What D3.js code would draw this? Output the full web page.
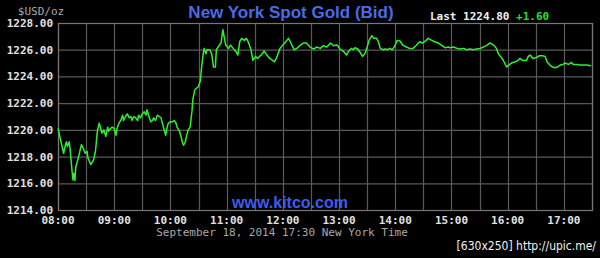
<!DOCTYPE html>
<html>
<head>
<meta charset="utf-8">
<script src="https://cdn.jsdelivr.net/npm/d3@7"></script>
<style>
  body { margin: 0; background: #000; }
  svg { display: block; }
</style>
</head>
<body>
<div id="goldChart"></div>
<script>
var outerWidth = 600, outerHeight = 258

var margins = {top: 23, right: 8, bottom: 48, left: 58}

var innerWidth = outerWidth - margins.left - margins.right
var innerHeight = outerHeight - margins.top - margins.bottom

// bid quotes, New York time
var times = ["08:00","08:06","08:08","08:09","08:10","08:12","08:13","08:15","08:16","08:17",
  "08:18","08:19","08:22","08:25","08:27","08:29","08:31","08:32","08:35","08:38",
  "08:40","08:42","08:44","08:47","08:49","08:51","08:53","08:54","08:56","08:58",
  "09:00","09:02","09:03","09:05","09:07","09:09","09:10","09:12","09:14","09:16",
  "09:18","09:19","09:21","09:23","09:25","09:26","09:28","09:30","09:32","09:34",
  "09:35","09:37","09:39","09:41","09:42","09:44","09:46","09:48","09:50","09:51",
  "09:53","09:55","09:57","09:58","10:00","10:02","10:04","10:06","10:07","10:09",
  "10:11","10:13","10:14","10:16","10:17","10:19","10:21","10:23","10:24","10:26",
  "10:30","10:32","10:33","10:35","10:36","10:38","10:39","10:42","10:44","10:46",
  "10:48","10:49","10:51","10:54","10:56","10:57","10:59","11:02","11:04","11:07",
  "11:10","11:12","11:14","11:16","11:19","11:21","11:23","11:26","11:28","11:31",
  "11:33","11:35","11:37","11:40","11:43","11:46","11:51","11:53","11:57","12:00",
  "12:02","12:06","12:08","12:12","12:15","12:18","12:22","12:25","12:29","12:33",
  "12:36","12:40","12:43","12:47","12:51","12:54","12:58","13:01","13:05","13:08",
  "13:10","13:13","13:15","13:17","13:20","13:22","13:25","13:28","13:30","13:32",
  "13:35","13:37","13:40","13:42","13:44","13:47","13:49","13:52","13:54","13:57",
  "14:00","14:02","14:05","14:08","14:12","14:15","14:19","14:22","14:26","14:29",
  "14:33","14:35","14:39","14:42","14:46","14:50","14:53","14:57","14:58","15:02",
  "15:06","15:09","15:13","15:16","15:20","15:23","15:27","15:31","15:34","15:38",
  "15:41","15:45","15:48","15:50","15:54","15:56","15:59","16:01","16:04","16:08",
  "16:11","16:13","16:16","16:20","16:22","16:24","16:27","16:30","16:34","16:37",
  "16:40","16:42","16:45","16:48","16:51","16:53","16:56","16:59","17:01","17:05",
  "17:08","17:10","17:14","17:17","17:21","17:24","17:29"]

var prices = [1220.1,1218.25,1218.9,1219.1,1218.75,1219.1,1218.5,1216.9,1216.25,1216.75,
  1216.2,1217.2,1218.0,1218.9,1218.6,1218.25,1218.4,1217.9,1217.4,1217.75,
  1218.4,1219.9,1220.5,1219.75,1220.0,1219.5,1220.2,1219.9,1220.1,1220.2,
  1220.1,1219.6,1220.1,1220.5,1220.7,1221.1,1220.7,1221.0,1221.2,1220.9,
  1221.0,1220.7,1221.0,1220.9,1220.7,1221.1,1220.9,1221.2,1221.35,1221.1,
  1221.5,1221.0,1220.6,1220.7,1220.9,1220.7,1221.1,1221.0,1220.9,1220.6,
  1220.1,1219.6,1220.35,1220.5,1220.6,1220.6,1220.7,1220.5,1220.2,1220.0,
  1219.6,1219.0,1218.85,1219.1,1219.5,1220.0,1220.2,1221.4,1222.3,1223.0,
  1223.25,1223.7,1224.5,1225.7,1226.1,1225.7,1226.0,1226.0,1225.7,1224.7,
  1224.7,1226.0,1226.2,1226.5,1227.5,1227.1,1226.35,1226.1,1226.35,1226.1,
  1225.85,1225.6,1226.6,1226.85,1226.7,1226.85,1226.6,1226.0,1225.2,1225.5,
  1225.35,1225.5,1225.6,1225.9,1225.6,1225.35,1225.1,1225.35,1226.1,1226.35,
  1226.5,1226.85,1226.6,1226.0,1226.1,1226.3,1226.5,1226.5,1226.2,1226.05,
  1226.2,1226.1,1226.3,1226.2,1226.5,1226.3,1226.35,1226.05,1225.85,1225.6,
  1225.85,1226.1,1226.0,1226.15,1226.05,1225.85,1225.5,1225.75,1226.2,1226.7,
  1227.05,1226.85,1226.85,1226.6,1226.1,1226.0,1226.05,1226.0,1226.1,1226.0,
  1226.35,1226.7,1226.65,1226.35,1226.2,1226.1,1226.1,1226.3,1226.6,1226.5,
  1226.7,1226.85,1226.7,1226.6,1226.5,1226.3,1226.15,1226.2,1226.15,1226.2,
  1226.1,1226.05,1226.1,1226.0,1226.05,1226.0,1226.05,1226.1,1226.2,1226.35,
  1226.5,1226.35,1226.1,1225.7,1225.35,1225.1,1224.7,1224.85,1225.0,1225.1,
  1225.2,1225.35,1225.2,1225.2,1225.5,1225.6,1225.35,1225.4,1225.55,1225.55,
  1225.5,1225.1,1224.85,1224.7,1224.65,1224.7,1224.85,1224.9,1225.0,1224.9,
  1225.05,1224.9,1224.9,1224.85,1224.85,1224.85,1224.8]

var yTicks = [1214, 1216, 1218, 1220, 1222, 1224, 1226, 1228]
var xTickLabels = ["08:00","09:00","10:00","11:00","12:00","13:00","14:00","15:00","16:00","17:00"]
var xDomain = ["08:00", "17:30"]

var lastPrice = "1224.80", change = "+1.60"

var parseTime = d3.timeParse("%H:%M")

var goldData = times.map(function(t, i) { return {time: parseTime(t), price: prices[i]} })

var svg = d3.select("#goldChart").append("svg")
    .attr("width", outerWidth)
    .attr("height", outerHeight)
    .style("background", "#000")

var plot = svg.append("g")
    .attr("transform", "translate(" + margins.left + "," + margins.top + ")")

var xScale = d3.scaleTime().domain(xDomain.map(parseTime)).range([0, innerWidth]),
    yScale = d3.scaleLinear().domain([1214, 1228]).range([innerHeight, 0])

var mono = "'DejaVu Sans Mono', 'Liberation Mono', monospace"

// grid
plot.selectAll(".hgrid")
    .data(yTicks)
    .enter()
    .append("line")
    .attr("x1", 0)
    .attr("x2", innerWidth)
    .attr("y1", function(d) { return yScale(d) + 0.5 })
    .attr("y2", function(d) { return yScale(d) + 0.5 })
    .style("stroke", "#5a5a5a")
    .style("stroke-width", 1.2)

plot.selectAll(".vgrid")
    .data(d3.timeMinute.every(30).range(xScale.domain()[0], d3.timeMinute.offset(xScale.domain()[1], 1)))
    .enter()
    .append("line")
    .attr("x1", function(d) { return Math.round(xScale(d)) + 0.5 })
    .attr("x2", function(d) { return Math.round(xScale(d)) + 0.5 })
    .attr("y1", 0)
    .attr("y2", innerHeight)
    .style("stroke", "#5a5a5a")
    .style("stroke-width", 1.2)

// border
plot.append("rect")
    .attr("x", 0.5)
    .attr("y", 0.5)
    .attr("width", innerWidth)
    .attr("height", innerHeight)
    .style("fill", "none")
    .style("stroke", "#777")
    .style("stroke-width", 1.2)

// y labels
svg.selectAll(".ylab")
    .data(yTicks)
    .enter()
    .append("text")
    .attr("x", 53)
    .attr("y", function(d) { return margins.top + yScale(d) + 4 })
    .attr("text-anchor", "end")
    .attr("fill", "#e0e0e0")
    .style("font-family", mono)
    .style("font-size", "11px")
    .style("font-weight", "bold")
    .text(function(d) { return d.toFixed(2) })

// x labels
svg.selectAll(".xlab")
    .data(xTickLabels)
    .enter()
    .append("text")
    .attr("x", function(d) { return margins.left + xScale(parseTime(d)) })
    .attr("y", 224)
    .attr("text-anchor", "middle")
    .attr("fill", "#e0e0e0")
    .style("font-family", mono)
    .style("font-size", "11px")
    .style("font-weight", "bold")
    .text(function(d) { return d })

svg.append("text")
    .attr("x", 282)
    .attr("y", 236)
    .attr("text-anchor", "middle")
    .attr("fill", "#a8a8a8")
    .style("font-family", mono)
    .style("font-size", "11px")
    .text("September 18, 2014 17:30 New York Time")

svg.append("text")
    .attr("x", 41)
    .attr("y", 15)
    .attr("text-anchor", "middle")
    .attr("fill", "#a8a8a8")
    .style("font-family", mono)
    .style("font-size", "11px")
    .text("$USD/oz")

// titles
svg.append("text")
    .attr("x", 291)
    .attr("y", 18)
    .attr("text-anchor", "middle")
    .attr("fill", "#4a6ae6")
    .style("font-family", "'Liberation Sans', Arial, sans-serif")
    .style("font-size", "17px")
    .style("font-weight", "bold")
    .text("New York Spot Gold (Bid)")

svg.append("text")
    .attr("x", 290)
    .attr("y", 208)
    .attr("text-anchor", "middle")
    .attr("fill", "#3c5cf0")
    .style("font-family", "'Liberation Sans', Arial, sans-serif")
    .style("font-size", "16px")
    .style("font-weight", "bold")
    .text("www.kitco.com")

var lastText = svg.append("text")
    .attr("x", 430)
    .attr("y", 20)
    .style("font-family", mono)
    .style("font-size", "11px")
    .style("font-weight", "bold")
lastText.append("tspan").attr("fill", "#f0f0f0").text("Last " + lastPrice + " ")
lastText.append("tspan").attr("fill", "#22e022").text(change)

// price line
var line = d3.line()
    .x(function(d) { return xScale(d.time) })
    .y(function(d) { return yScale(d.price) })

plot.append("path")
    .datum(goldData)
    .attr("d", line)
    .style("fill", "none")
    .style("stroke", "#2ef02e")
    .style("stroke-width", 1.5)
    .style("stroke-linejoin", "round")

// watermark
svg.append("text")
    .attr("x", 596)
    .attr("y", 250)
    .attr("text-anchor", "end")
    .attr("fill", "#f0f0f0")
    .style("font-family", "'DejaVu Sans Condensed', 'DejaVu Sans', sans-serif")
    .style("font-size", "12px")
    .text("[630x250] http://upic.me/")
</script>
</body>
</html>
